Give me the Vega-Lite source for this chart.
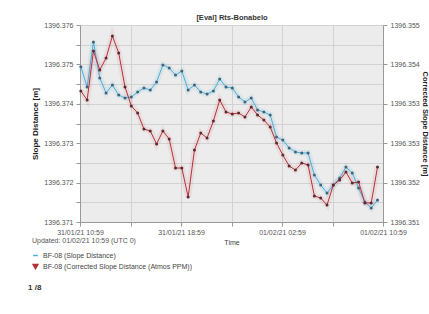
{
  "$schema": "https://vega.github.io/schema/vega-lite/v6.json",
  "width": 303,
  "height": 197,
  "autosize": {"type": "none"},
  "padding": {"left": 80, "top": 25, "right": 46, "bottom": 92},
  "background": "white",
  "title": {"text": "1 /8", "orient": "bottom", "anchor": "start", "frame": "group", "dx": -52, "offset": 12, "fontSize": 8, "fontWeight": "bold", "color": "#333", "font": "Liberation Sans"},
  "config": {
    "font": "Liberation Sans",
    "view": {"fill": "#ececec", "stroke": "#c8c8c8"},
    "axis": {"labelFont": "Liberation Sans", "labelFontSize": 7, "labelColor": "#555", "titleFont": "Liberation Sans", "domainColor": "#999", "tickColor": "#999", "gridColor": "#d2d2d2", "tickSize": 4, "labelOverlap": false}
  },
  "data": {"values": [
    {"t": "2021-01-31T11:03:00Z", "slope": 1396.374942, "corrected": 1396.35366},
    {"t": "2021-01-31T11:33:00Z", "slope": 1396.374426, "corrected": 1396.353477},
    {"t": "2021-01-31T12:03:00Z", "slope": 1396.375569, "corrected": 1396.354472},
    {"t": "2021-01-31T12:33:00Z", "slope": 1396.374655, "corrected": 1396.354086},
    {"t": "2021-01-31T13:03:00Z", "slope": 1396.374274, "corrected": 1396.35433},
    {"t": "2021-01-31T13:33:00Z", "slope": 1396.374477, "corrected": 1396.354777},
    {"t": "2021-01-31T14:03:00Z", "slope": 1396.374223, "corrected": 1396.354431},
    {"t": "2021-01-31T14:33:00Z", "slope": 1396.374147, "corrected": 1396.353741},
    {"t": "2021-01-31T15:03:00Z", "slope": 1396.374173, "corrected": 1396.353355},
    {"t": "2021-01-31T15:33:00Z", "slope": 1396.374299, "corrected": 1396.353213},
    {"t": "2021-01-31T16:03:00Z", "slope": 1396.374401, "corrected": 1396.352888},
    {"t": "2021-01-31T16:33:00Z", "slope": 1396.37435, "corrected": 1396.352848},
    {"t": "2021-01-31T17:03:00Z", "slope": 1396.374553, "corrected": 1396.352584},
    {"t": "2021-01-31T17:33:00Z", "slope": 1396.374985, "corrected": 1396.352848},
    {"t": "2021-01-31T18:03:00Z", "slope": 1396.374909, "corrected": 1396.352685},
    {"t": "2021-01-31T18:33:00Z", "slope": 1396.374731, "corrected": 1396.352096},
    {"t": "2021-01-31T19:03:00Z", "slope": 1396.374832, "corrected": 1396.352096},
    {"t": "2021-01-31T19:33:00Z", "slope": 1396.37435, "corrected": 1396.351508},
    {"t": "2021-01-31T20:03:00Z", "slope": 1396.374477, "corrected": 1396.352462},
    {"t": "2021-01-31T20:33:00Z", "slope": 1396.374299, "corrected": 1396.352807},
    {"t": "2021-01-31T21:03:00Z", "slope": 1396.374249, "corrected": 1396.352706},
    {"t": "2021-01-31T21:33:00Z", "slope": 1396.374325, "corrected": 1396.353051},
    {"t": "2021-01-31T22:03:00Z", "slope": 1396.374629, "corrected": 1396.353477},
    {"t": "2021-01-31T22:33:00Z", "slope": 1396.374426, "corrected": 1396.353234},
    {"t": "2021-01-31T23:03:00Z", "slope": 1396.374401, "corrected": 1396.353193},
    {"t": "2021-01-31T23:33:00Z", "slope": 1396.374173, "corrected": 1396.353213},
    {"t": "2021-02-01T00:03:00Z", "slope": 1396.374046, "corrected": 1396.353132},
    {"t": "2021-02-01T00:33:00Z", "slope": 1396.374147, "corrected": 1396.353335},
    {"t": "2021-02-01T01:03:00Z", "slope": 1396.373843, "corrected": 1396.353173},
    {"t": "2021-02-01T01:33:00Z", "slope": 1396.373792, "corrected": 1396.353071},
    {"t": "2021-02-01T02:03:00Z", "slope": 1396.373716, "corrected": 1396.352929},
    {"t": "2021-02-01T02:33:00Z", "slope": 1396.373157, "corrected": 1396.352604},
    {"t": "2021-02-01T03:03:00Z", "slope": 1396.373081, "corrected": 1396.35236},
    {"t": "2021-02-01T03:33:00Z", "slope": 1396.372878, "corrected": 1396.352137},
    {"t": "2021-02-01T04:03:00Z", "slope": 1396.372777, "corrected": 1396.352056},
    {"t": "2021-02-01T04:33:00Z", "slope": 1396.372751, "corrected": 1396.352198},
    {"t": "2021-02-01T05:03:00Z", "slope": 1396.372751, "corrected": 1396.352157},
    {"t": "2021-02-01T05:33:00Z", "slope": 1396.372193, "corrected": 1396.351528},
    {"t": "2021-02-01T06:03:00Z", "slope": 1396.371939, "corrected": 1396.351487},
    {"t": "2021-02-01T06:33:00Z", "slope": 1396.371736, "corrected": 1396.351345},
    {"t": "2021-02-01T07:03:00Z", "slope": 1396.371939, "corrected": 1396.351751},
    {"t": "2021-02-01T07:33:00Z", "slope": 1396.372117, "corrected": 1396.351853},
    {"t": "2021-02-01T08:03:00Z", "slope": 1396.372396, "corrected": 1396.352015},
    {"t": "2021-02-01T08:33:00Z", "slope": 1396.372244, "corrected": 1396.351792},
    {"t": "2021-02-01T09:03:00Z", "slope": 1396.371863, "corrected": 1396.351812},
    {"t": "2021-02-01T09:33:00Z", "slope": 1396.371508, "corrected": 1396.351386},
    {"t": "2021-02-01T10:03:00Z", "slope": 1396.371355, "corrected": 1396.351386},
    {"t": "2021-02-01T10:33:00Z", "slope": 1396.371558, "corrected": 1396.352117}
  ]},
  "layer": [
    {
      "layer": [
        {
          "mark": {"type": "line", "strokeWidth": 6, "opacity": 0.13, "color": "#5ab4dc"},
          "encoding": {
            "x": {"field": "t", "type": "temporal", "scale": {"type": "utc", "domain": [1612090740000, 1612177140000]},
              "axis": {"values": [1612090740000, 1612105140000, 1612119540000, 1612133940000, 1612148340000, 1612162740000, 1612177140000], "tickCount": 20,
                "labelExpr": "(datum.value - 1612090740000) % 28800000 == 0 ? utcFormat(datum.value, '%d/%m/%y %H:%M') : ''",
                "title": "Time", "titleFontSize": 7, "titleFontWeight": "normal", "titleColor": "#444", "titlePadding": 3, "labelPadding": 2, "labelFlush": false, "labelOverlap": false}},
            "y": {"field": "slope", "type": "quantitative", "scale": {"domain": [1396.371, 1396.376], "zero": false, "nice": false},
              "axis": {"orient": "left", "values": [1396.371, 1396.3715, 1396.372, 1396.3725, 1396.373, 1396.3735, 1396.374, 1396.3745, 1396.375, 1396.3755, 1396.376], "tickCount": 30,
                "labelExpr": "abs(datum.value * 1000 - round(datum.value * 1000)) < 0.1 ? format(datum.value, '.3f') : ''",
                "labelOverlap": false,
                "title": "Slope Distance [m]", "titleFontSize": 8, "titleFontWeight": "bold", "titleColor": "#222", "titlePadding": 4, "labelPadding": 3}}
          }
        },
        {
          "mark": {"type": "line", "strokeWidth": 1},
          "encoding": {
            "x": {"field": "t", "type": "temporal"},
            "y": {"field": "slope", "type": "quantitative"},
            "color": {"datum": "BF-08 (Slope Distance)", "type": "nominal",
              "scale": {"domain": ["BF-08 (Slope Distance)", "BF-08 (Corrected Slope Distance (Atmos PPM))"], "range": ["#4aaedb", "#b3303a"]},
              "legend": {"orient": "none", "legendX": -48, "legendY": 212, "direction": "vertical",
                "title": "Updated: 01/02/21 10:59 (UTC 0)", "titleFontSize": 7, "titleFontWeight": "normal", "titleColor": "#555", "titlePadding": 8,
                "labelFontSize": 7, "labelColor": "#444", "symbolSize": 22, "rowPadding": 2,
                "encode": {"symbols": {"update": {
                  "shape": {"signal": "datum.value === 'BF-08 (Slope Distance)' ? 'stroke' : 'triangle-down'"},
                  "fill": {"signal": "datum.value === 'BF-08 (Slope Distance)' ? 'transparent' : '#b3303a'"},
                  "strokeWidth": {"value": 1.5}}}}}}
          }
        },
        {
          "mark": {"type": "point", "filled": true, "size": 9, "color": "#3f6478", "opacity": 1},
          "encoding": {
            "x": {"field": "t", "type": "temporal"},
            "y": {"field": "slope", "type": "quantitative"}
          }
        }
      ]
    },
    {
      "layer": [
        {
          "mark": {"type": "line", "strokeWidth": 6, "opacity": 0.1, "color": "#d0505a"},
          "encoding": {
            "x": {"field": "t", "type": "temporal", "axis": {"orient": "top", "title": "[Eval] Rts-Bonabelo", "labels": false, "ticks": false, "domain": false, "grid": false, "titleFontSize": 7.5, "titleFontWeight": "bold", "titleColor": "#333", "titlePadding": 4}},
            "y": {"field": "corrected", "type": "quantitative", "scale": {"domain": [1396.351, 1396.355], "zero": false, "nice": false},
              "axis": {"orient": "right", "values": [1396.351, 1396.3518, 1396.3526, 1396.3534, 1396.3542, 1396.355], "tickCount": 20, "format": ".3f", "grid": false, "labelOverlap": false,
                "title": "Corrected Slope Distance [m]", "titleFontSize": 7.5, "titleFontWeight": "bold", "titleColor": "#222", "titlePadding": 1, "labelPadding": 3}}
          }
        },
        {
          "mark": {"type": "line", "strokeWidth": 1},
          "encoding": {
            "x": {"field": "t", "type": "temporal"},
            "y": {"field": "corrected", "type": "quantitative"},
            "color": {"datum": "BF-08 (Corrected Slope Distance (Atmos PPM))", "type": "nominal"}
          }
        },
        {
          "mark": {"type": "point", "filled": true, "size": 9, "color": "#5a2a2e", "opacity": 1},
          "encoding": {
            "x": {"field": "t", "type": "temporal"},
            "y": {"field": "corrected", "type": "quantitative"}
          }
        }
      ]
    }
  ],
  "resolve": {"scale": {"y": "independent"}, "axis": {"x": "independent"}}
}
